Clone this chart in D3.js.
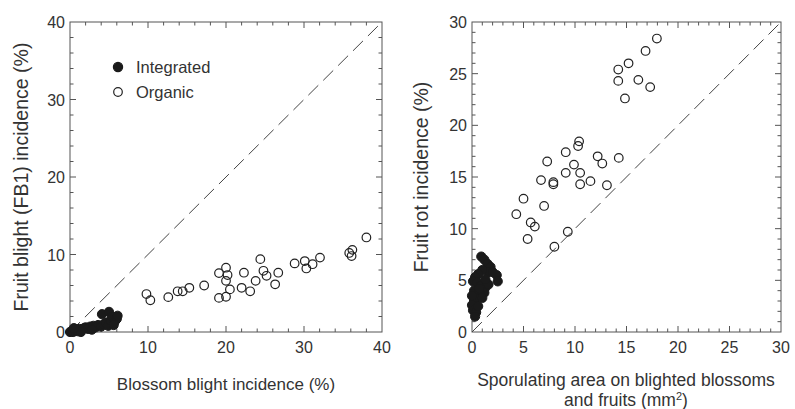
<!DOCTYPE html>
<html>
<head>
<meta charset="utf-8">
<script src="https://cdn.jsdelivr.net/npm/d3@7"></script>
<style>
  body { margin: 0; background: #fff; }
  text { font-family: "Liberation Sans", Arial, sans-serif; fill: #333; }
</style>
</head>
<body>
<script>
// ---- data ----
// left panel: blossom blight incidence (%) vs fruit blight FB1 incidence (%)
var leftIntegrated = [
  [0,0],[0.2,0.1],[0.4,0.0],[0.6,0.2],[0.8,0.3],[1.0,0.1],[1.2,0.4],[1.5,0.3],[1.8,0.5],[2.0,0.6],
  [2.3,0.4],[2.6,0.7],[3.0,0.8],[3.3,0.6],[3.6,0.9],[4.0,0.7],[4.1,2.3],[4.3,1.0],[4.6,1.2],[4.9,0.8],
  [5.0,2.6],[5.2,1.5],[5.4,2.0],[5.7,1.3],[6.0,1.7],[6.1,2.1],[5.6,0.9],[2.8,0.3],[1.4,0.0],[0.5,0.5]
];
var leftOrganic = [
  [9.8,4.9],[10.3,4.1],[12.6,4.5],[13.8,5.25],[14.45,5.25],[15.3,5.7],[17.2,6.0],[19.1,7.6],
  [20.0,8.3],[20.2,7.35],[20.0,6.6],[20.5,5.5],[19.1,4.4],[20.0,4.55],[22.3,7.65],[22.0,5.7],
  [23.1,5.25],[23.8,6.6],[24.4,9.4],[24.8,7.9],[25.2,7.25],[26.3,6.15],[26.7,7.65],[28.8,8.85],
  [30.1,9.15],[30.3,8.2],[31.1,8.75],[32.05,9.6],[35.8,10.2],[36.2,10.6],[36.1,9.8],[38.0,12.2]
];
// right panel: sporulating area (mm2) vs fruit rot incidence (%)
var rightIntegrated = [
  [0.9,7.3],[1.2,7.0],[1.5,6.6],[1.8,6.3],[2.4,5.5],[2.5,4.9],[1.6,5.8],[1.0,6.0],[0.6,5.6],[0.3,5.3],
  [0.1,4.9],[0.5,4.8],[0.9,4.5],[1.3,4.3],[1.6,4.6],[1.2,3.8],[0.8,3.6],[0.4,3.3],[0.2,3.0],[0.0,2.6],
  [0.1,2.1],[0.4,1.9],[0.3,1.5],[0.6,2.5],[1.0,3.3],[0.2,4.0],[0.7,4.2],[1.3,5.1],[0.0,3.5],[2.0,5.8]
];
var rightOrganic = [
  [14.2,25.4],[15.2,26.0],[14.2,24.3],[14.85,22.6],[16.15,24.4],[16.85,27.2],[17.3,23.7],[17.95,28.4],
  [10.4,18.45],[10.3,18.0],[9.1,17.4],[7.3,16.5],[12.2,17.0],[12.65,16.3],[14.25,16.85],[9.9,16.2],
  [9.1,15.4],[10.5,15.4],[6.7,14.7],[7.9,14.5],[7.9,14.3],[10.5,14.3],[11.5,14.6],[13.1,14.2],
  [5.0,12.9],[7.0,12.2],[5.7,10.6],[6.1,10.2],[5.4,9.0],[9.3,9.7],[8.0,8.25],[4.3,11.4]
];
var leftTicks = [0, 10, 20, 30, 40];
var rightTicks = [0, 5, 10, 15, 20, 25, 30];
var legendItems = ["Integrated", "Organic"];

var svg = d3.select("body").append("svg").attr("width", 795).attr("height", 409);

function drawPanel(opt) {
  var x = d3.scaleLinear().domain([0, opt.max]).range([opt.x0, opt.x1]);
  var y = d3.scaleLinear().domain([0, opt.max]).range([opt.y0, opt.y1]);
  var g = svg.append("g");

  // inward ticks on all four sides
  var minor = d3.range(0, opt.max + 0.001, opt.minor);
  minor.forEach(function(v) {
    var major = opt.ticks.indexOf(v) >= 0;
    var len = major ? 6 : 3.5;
    if (v > 0 && v < opt.max) {
      g.append("line").attr("x1", x(v)).attr("x2", x(v)).attr("y1", opt.y0).attr("y2", opt.y0 - len);
      g.append("line").attr("x1", x(v)).attr("x2", x(v)).attr("y1", opt.y1).attr("y2", opt.y1 + len);
      g.append("line").attr("y1", y(v)).attr("y2", y(v)).attr("x1", opt.x0).attr("x2", opt.x0 + len);
      g.append("line").attr("y1", y(v)).attr("y2", y(v)).attr("x1", opt.x1).attr("x2", opt.x1 - len);
    }
  });
  g.selectAll("line").style("stroke", "#555").style("stroke-width", 1);

  g.append("rect").attr("x", opt.x0).attr("y", opt.y1)
    .attr("width", opt.x1 - opt.x0).attr("height", opt.y0 - opt.y1)
    .style("fill", "none").style("stroke", "#555").style("stroke-width", 1);

  opt.ticks.forEach(function(v) {
    g.append("text").text(v).attr("x", x(v)).attr("y", opt.y0 + 21)
      .attr("text-anchor", "middle").attr("font-size", "16px");
    g.append("text").text(v).attr("x", opt.x0 - 5).attr("y", y(v) + 6)
      .attr("text-anchor", "end").attr("font-size", "16px");
  });

  // 1:1 line
  g.append("line").attr("x1", x(0)).attr("y1", y(0)).attr("x2", x(opt.max)).attr("y2", y(opt.max))
    .style("stroke", "#444").style("stroke-width", 1).style("stroke-dasharray", "14,7");

  g.selectAll(".org").data(opt.organic).enter().append("circle")
    .attr("cx", function(d) { return x(d[0]); }).attr("cy", function(d) { return y(d[1]); })
    .attr("r", 4.3).style("fill", "none").style("stroke", "#222").style("stroke-width", 1.2);
  g.selectAll(".int").data(opt.integrated).enter().append("circle")
    .attr("cx", function(d) { return x(d[0]); }).attr("cy", function(d) { return y(d[1]); })
    .attr("r", 4.6).style("fill", "#1a1a1a").style("stroke", "#1a1a1a");

  // y axis title
  g.append("text").attr("transform", "translate(" + opt.ylabX + "," + ((opt.y0 + opt.y1) / 2) + ") rotate(-90)")
    .attr("text-anchor", "middle").attr("font-size", "19.5px").text(opt.ylab);
  return { x: x, y: y, g: g };
}

var left = drawPanel({ x0: 70, x1: 382, y0: 332, y1: 22, max: 40, minor: 2, ticks: leftTicks,
  organic: leftOrganic, integrated: leftIntegrated, ylabX: 28, ylab: "Fruit blight (FB1) incidence (%)" });
left.g.append("text").attr("x", 226).attr("y", 390).attr("text-anchor", "middle")
  .attr("font-size", "17px").text("Blossom blight incidence (%)");

var right = drawPanel({ x0: 472, x1: 781, y0: 332, y1: 22, max: 30, minor: 1, ticks: rightTicks,
  organic: rightOrganic, integrated: rightIntegrated, ylabX: 428, ylab: "Fruit rot incidence (%)" });
right.g.append("text").attr("x", 626).attr("y", 386).attr("text-anchor", "middle")
  .attr("font-size", "17.5px").text("Sporulating area on blighted blossoms");
var t2 = right.g.append("text").attr("x", 626).attr("y", 406).attr("text-anchor", "middle")
  .attr("font-size", "17.5px");
t2.append("tspan").text("and fruits (mm");
t2.append("tspan").attr("dy", -6).attr("font-size", "11px").text("2");
t2.append("tspan").attr("dy", 6).text(")");

// legend
var leg = svg.append("g");
legendItems.forEach(function(name, i) {
  var cy = 67 + i * 25;
  leg.append("circle").attr("cx", 118).attr("cy", cy).attr("r", i === 0 ? 4.6 : 4.3)
    .style("fill", i === 0 ? "#1a1a1a" : "none").style("stroke", i === 0 ? "#1a1a1a" : "#222").style("stroke-width", 1.2);
  leg.append("text").attr("x", 136).attr("y", cy + 6).attr("font-size", "16.5px").text(name);
});
</script>
</body>
</html>
